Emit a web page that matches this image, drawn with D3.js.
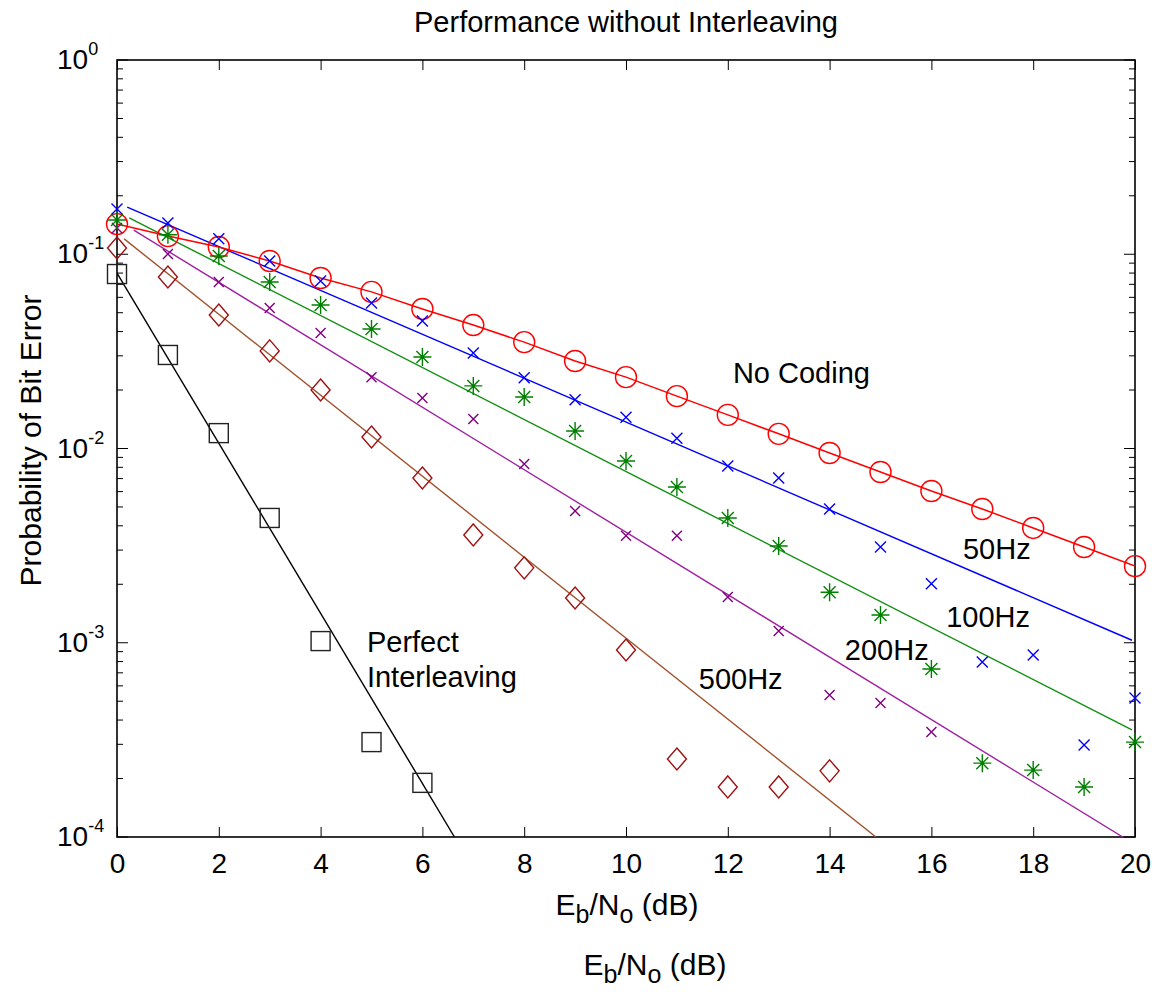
<!DOCTYPE html>
<html><head><meta charset="utf-8">
<script src="https://cdn.jsdelivr.net/npm/d3@7"></script>
<style>
body{margin:0;background:#fff}
text{font-family:"Liberation Sans",Arial,Helvetica,sans-serif;fill:#000}
</style>
</head><body>
<svg id="c" width="1154" height="992"></svg>
<script>
// ---------------- data ----------------
const ebnoAll   = [0,1,2,3,4,5,6,7,8,9,10,11,12,13,14,15,16,17,18,19,20];
const noCoding  = [0.143,0.124,0.109,0.0923,0.0755,0.064,0.0523,0.0432,0.0353,0.0282,0.0233,0.0186,0.0149,0.0119,0.00948,0.00757,0.00604,0.00488,0.0039,0.00311,0.00248];
const hz50      = [0.171,0.145,0.120,0.0923,0.0728,0.0561,0.0453,0.0310,0.0231,0.0178,0.0145,0.0113,0.00813,0.00705,0.00488,0.00311,0.00201,0.000796,0.000865,0.000298,0.00052];
const hz100     = [0.150,0.126,0.098,0.072,0.0548,0.0412,0.0296,0.0210,0.0184,0.0123,0.00862,0.00634,0.00439,0.00315,0.00182,0.00139,0.000733,0.00024,0.000221,0.000181,0.000308];
const ebno200   = [0,1,2,3,4,5,6,7,8,9,10,11,12,13,14,15,16];
const hz200     = [0.1365,0.1003,0.072,0.0529,0.0393,0.0233,0.0182,0.0142,0.00832,0.00477,0.00355,0.00355,0.00172,0.00115,0.000538,0.00049,0.000347];
const ebno500   = [0,1,2,3,4,5,6,7,8,9,10,11,12,13,14];
const hz500     = [0.1077,0.0764,0.0487,0.0318,0.020,0.01146,0.00705,0.00359,0.00243,0.0017,0.000918,0.000252,0.000181,0.000181,0.000219];
const ebnoPerf  = [0,1,2,3,4,5,6];
const perfect   = [0.0791,0.0303,0.0120,0.00439,0.00102,0.000308,0.00019];

// fitted straight lines (endpoints)
const fit50X  = [0.2, 19.94],  fit50Y  = [0.175, 0.00103];
const fit100X = [0.24, 19.94], fit100Y = [0.154, 0.000356];
const fit200X = [0.33, 19.76], fit200Y = [0.133, 0.0001];
const fit500X = [0.14, 14.91], fit500Y = [0.12, 0.0001];
const fitPerfX= [0, 6.63],     fitPerfY= [0.08, 0.0001];

const xTicks = [0,2,4,6,8,10,12,14,16,18,20];
const yDecades = [0,-1,-2,-3,-4];

const labels = [
  {t:"No Coding", x:12.10, y:0.0217},
  {t:"50Hz", x:16.62, y:0.0027},
  {t:"100Hz", x:16.29, y:0.00121},
  {t:"200Hz", x:14.30, y:0.000815},
  {t:"500Hz", x:11.43, y:0.000578},
  {t:"Perfect", x:4.91, y:0.000896},
  {t:"Interleaving", x:4.91, y:0.000592}
];

// ---------------- chart ----------------
const svg = d3.select("#c");
const L=117, R=1135, T=60, B=837;
const x = d3.scaleLinear().domain([0,20]).range([L,R]);
const y = d3.scaleLog().domain([1e-4,1]).range([B,T]);

svg.append("defs").append("clipPath").attr("id","clip")
  .append("rect").attr("x",L).attr("y",T).attr("width",R-L).attr("height",B-T);

const ax = svg.append("g");
ax.append("g").attr("transform",`translate(0,${B})`)
  .call(d3.axisBottom(x).tickValues(xTicks).tickSize(-10).tickPadding(16).tickFormat(d3.format("d")))
  .call(g=>{g.select(".domain").remove();
    g.selectAll("line").attr("stroke","#000").attr("stroke-width",1);
    g.selectAll("text").attr("font-size",28).attr("font-family","Liberation Sans, Arial, sans-serif").attr("dy","0.71em").attr("y",16);});
ax.append("g").attr("transform",`translate(0,${T})`)
  .call(d3.axisTop(x).tickValues(xTicks).tickSize(-10).tickFormat(""))
  .call(g=>{g.select(".domain").remove(); g.selectAll("line").attr("stroke","#000");});

const minor = [];
for (const d of [-4,-3,-2,-1]) for (let k=2;k<=9;k++) minor.push(k*Math.pow(10,d));
const major = yDecades.map(d=>Math.pow(10,d));
[[L,1],[R,-1]].forEach(([px,dir])=>{
  ax.selectAll(null).data(major).enter().append("line")
    .attr("x1",px).attr("x2",px+dir*11).attr("y1",d=>y(d)).attr("y2",d=>y(d))
    .attr("stroke","#000").attr("stroke-width",1);
  ax.selectAll(null).data(minor).enter().append("line")
    .attr("x1",px).attr("x2",px+dir*6).attr("y1",d=>y(d)).attr("y2",d=>y(d))
    .attr("stroke","#000").attr("stroke-width",1);
});
const yl = ax.selectAll(null).data(yDecades).enter().append("text")
  .attr("x",57).attr("y",d=>y(Math.pow(10,d))+9).attr("font-size",28);
yl.append("tspan").text("10");
yl.append("tspan").attr("font-size",18).attr("dy",-14).text(d=>String(d));

svg.append("rect").attr("x",L).attr("y",T).attr("width",R-L).attr("height",B-T)
  .attr("fill","none").attr("stroke","#000").attr("stroke-width",1.6);

const line = d3.line().x(d=>x(d[0])).y(d=>y(d[1]));
const lg = svg.append("g").attr("clip-path","url(#clip)").attr("fill","none");
function fitLine(xs,ys,color){
  lg.append("path").attr("d",line(xs.map((v,i)=>[v,ys[i]]))).attr("stroke",color).attr("stroke-width",1.4);
}
fitLine(fit50X,fit50Y,"#0000ff");
fitLine(fit100X,fit100Y,"#109010");
fitLine(fit200X,fit200Y,"#a020a0");
fitLine(fit500X,fit500Y,"#a0522d");
fitLine(fitPerfX,fitPerfY,"#000000");
lg.append("path").attr("d",line(ebnoAll.map((v,i)=>[v,noCoding[i]]))).attr("stroke","#ff0000").attr("stroke-width",1.5);

const mg = svg.append("g").attr("fill","none");
function pts(xs,ys){return xs.map((v,i)=>[v,ys[i]]);}
mg.selectAll(null).data(pts(ebnoAll,noCoding)).enter().append("circle")
  .attr("cx",d=>x(d[0])).attr("cy",d=>y(d[1])).attr("r",10.5)
  .attr("stroke","#ff0000").attr("stroke-width",1.4);
function xmark(data,color,s){
  mg.selectAll(null).data(data).enter().append("path")
    .attr("transform",d=>`translate(${x(d[0])},${y(d[1])})`)
    .attr("d",`M${-s},${-s}L${s},${s}M${-s},${s}L${s},${-s}`)
    .attr("stroke",color).attr("stroke-width",1.4);
}
xmark(pts(ebnoAll,hz50),"#0000ff",5.5);
xmark(pts(ebno200,hz200),"#800080",5);
mg.selectAll(null).data(pts(ebnoAll,hz100)).enter().append("path")
  .attr("transform",d=>`translate(${x(d[0])},${y(d[1])})`)
  .attr("d","M-9,0L9,0M0,-9L0,9M-6,-6L6,6M-6,6L6,-6")
  .attr("stroke","#008000").attr("stroke-width",1.4);
mg.selectAll(null).data(pts(ebno500,hz500)).enter().append("path")
  .attr("transform",d=>`translate(${x(d[0])},${y(d[1])})`)
  .attr("d","M0,-11L9.5,0L0,11L-9.5,0Z")
  .attr("stroke","#a01010").attr("stroke-width",1.4);
mg.selectAll(null).data(pts(ebnoPerf,perfect)).enter().append("rect")
  .attr("x",d=>x(d[0])-9.5).attr("y",d=>y(d[1])-9.5).attr("width",19).attr("height",19)
  .attr("stroke","#222").attr("stroke-width",1.4);

svg.selectAll(null).data(labels).enter().append("text")
  .attr("x",d=>x(d.x)).attr("y",d=>y(d.y)).attr("font-size",29).text(d=>d.t);

svg.append("text").attr("x",(L+R)/2).attr("y",32).attr("text-anchor","middle")
  .attr("font-size",29).text("Performance without Interleaving");

function ebnoLabel(cx,by){
  const t = svg.append("text").attr("x",cx).attr("y",by).attr("text-anchor","middle").attr("font-size",30);
  t.append("tspan").text("E");
  t.append("tspan").attr("dy",8).attr("font-size",25).text("b");
  t.append("tspan").attr("dy",-8).text("/N");
  t.append("tspan").attr("dy",8).attr("font-size",25).text("o");
  t.append("tspan").attr("dy",-8).text(" (dB)");
}
ebnoLabel(627,915);
ebnoLabel(655,975);

svg.append("text").attr("transform",`translate(41,${(T+B)/2 - 8}) rotate(-90)`)
  .attr("text-anchor","middle").attr("font-size",30).text("Probability of Bit Error");
</script>
</body></html>
